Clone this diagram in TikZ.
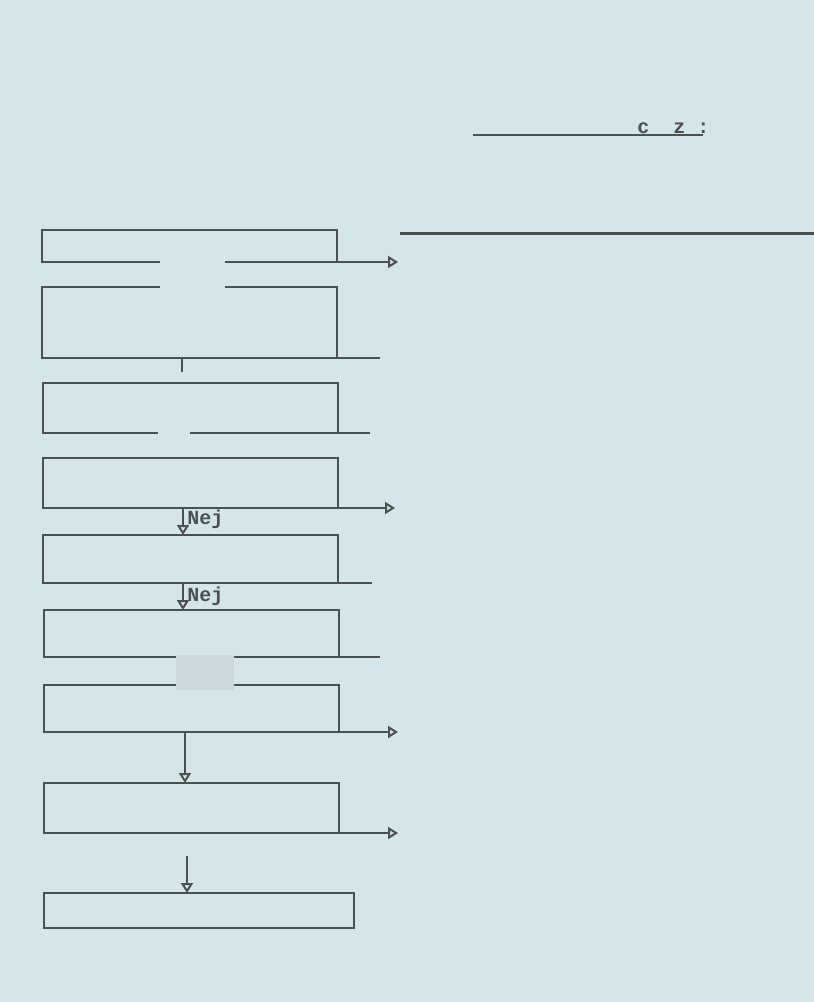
\documentclass[tikz,border=0pt]{standalone}
\usepackage{fontspec}
\setmonofont{Liberation Mono}
\usetikzlibrary{arrows.meta}
\definecolor{paper}{RGB}{213,230,235}
\definecolor{patch}{RGB}{203,217,221}
\definecolor{ink}{RGB}{75,80,82}
\tikzset{
  box/.style = {draw = ink, line width = 1pt, inner sep = 0pt, outer sep = 0pt, minimum width = 147.5pt},
  wire/.style = {draw = ink, line width = 1pt},
  flow/.style = {wire, -{Triangle[open, length = 5pt, width = 6pt]}},
  lbl/.style = {font = \ttfamily\bfseries, text = ink, inner sep = 0pt}
}
\begin{document}
\begin{tikzpicture}[x = 0.5pt, y = -0.5pt]
\fill[paper] (0,0) rectangle (814,1002);
\useasboundingbox (0,0) rectangle (814,1002);
% heading
\node[lbl, anchor = base west] (head) at (637,133) {c\ \ z\ :};
\coordinate (hl) at (473,135);
\coordinate (hr) at (703,135);
\draw[wire, line width = 1.1pt] (hl) -- (hr);
\coordinate (rl) at (400,233);
\coordinate (rr) at (814,233);
\draw[wire, line width = 1.5pt] (rl) -- (rr);
% boxes
\node[box, minimum height = 16pt] (b1) at (189.5,246) {};
\node[box, minimum height = 35.5pt] (b2) at (189.5,322.5) {};
\node[box, minimum height = 25pt] (b3) at (190,408) {};
\node[box, minimum height = 25pt] (b4) at (190,483) {};
\node[box, minimum height = 24pt] (b5) at (190,559) {};
\node[box, minimum height = 23.5pt] (b6) at (191,633.5) {};
\node[box, minimum height = 23.5pt] (b7) at (191,708.5) {};
\node[box, minimum height = 25pt] (b8) at (191,808) {};
\node[box, minimum height = 17.5pt, minimum width = 155pt] (b9) at (199,910.5) {};
% blanked parts
\fill[paper] (160,257) rectangle (225,292);
\fill[paper] (158,430) rectangle (190,436);
\fill[patch] (176,655) rectangle (234,690);
% connectors
\coordinate (o1) at (398,262);
\draw[flow] (b1.south east) -- (o1);
\coordinate (e2) at (380,358);
\draw[wire] (b2.south east) -- (e2);
\coordinate (s2) at (182,372);
\draw[wire] (b2.south -| s2) -- (s2);
\coordinate (e3) at (370,433);
\draw[wire] (b3.south east) -- (e3);
\coordinate (o4) at (395,508);
\draw[flow] (b4.south east) -- (o4);
\draw[flow] (b4.south -| 183,0) -- (b5.north -| 183,0);
\node[lbl, anchor = west] (nej1) at (187,519) {Nej};
\coordinate (e5) at (372,583);
\draw[wire] (b5.south east) -- (e5);
\draw[flow] (b5.south -| 183,0) -- (b6.north -| 183,0);
\node[lbl, anchor = west] (nej2) at (187,596) {Nej};
\coordinate (e6) at (380,657);
\draw[wire] (b6.south east) -- (e6);
\coordinate (o7) at (398,732);
\draw[flow] (b7.south east) -- (o7);
\draw[flow] (b7.south -| 185,0) -- (b8.north -| 185,0);
\coordinate (o8) at (398,833);
\draw[flow] (b8.south east) -- (o8);
\coordinate (s9) at (187,856);
\draw[flow] (s9) -- (b9.north -| s9);
\end{tikzpicture}
\end{document}
